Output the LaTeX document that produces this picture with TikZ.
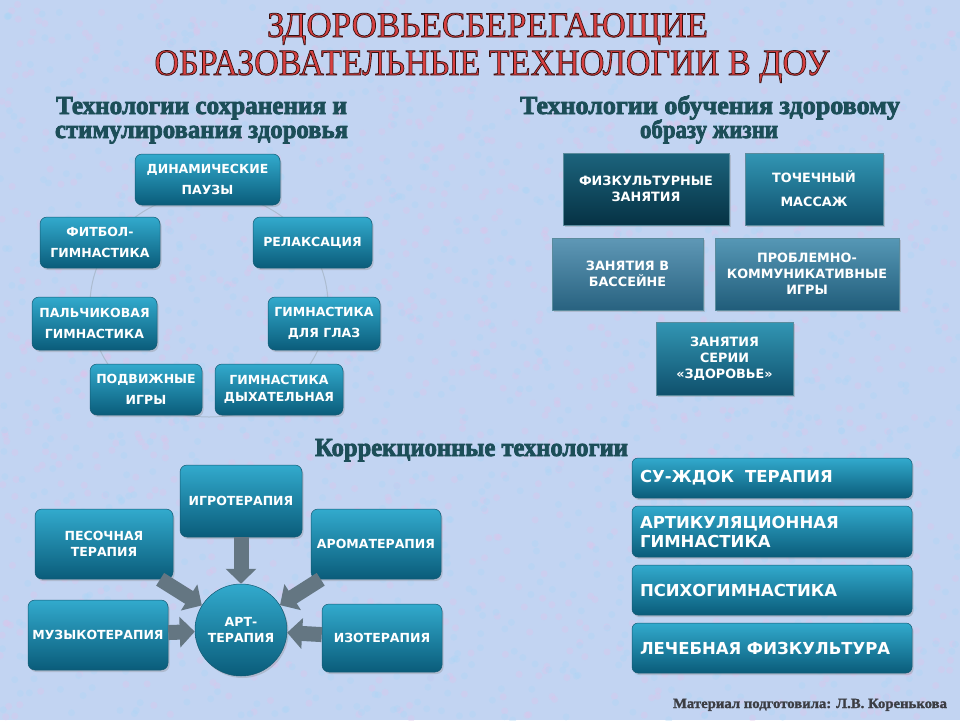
\documentclass[tikz,border=0pt]{standalone}
\usepackage{fontspec}
\setmainfont{Liberation Serif}
\newfontfamily\boxfont{DejaVu Sans}
\newfontfamily\titlefont[FakeBold=2]{Liberation Serif}
\newfontfamily\headfont[BoldFeatures={FakeBold=3}]{Liberation Serif}
\newfontfamily\footfont[BoldFeatures={FakeBold=1.5}]{Liberation Serif}
\usetikzlibrary{shadows,arrows.meta}
\definecolor{bg}{RGB}{194,212,242}
\definecolor{pinkdot}{RGB}{222,196,236}
\definecolor{bluedot}{RGB}{172,214,246}
\definecolor{tealtop}{RGB}{50,170,205}
\definecolor{tealbot}{RGB}{10,92,122}
\definecolor{tealedge}{RGB}{20,90,115}
\definecolor{darktop}{RGB}{28,100,125}
\definecolor{darkbot}{RGB}{6,50,68}
\definecolor{slatetop}{RGB}{95,152,182}
\definecolor{slatebot}{RGB}{40,98,128}
\definecolor{midtop}{RGB}{50,150,180}
\definecolor{midbot}{RGB}{15,80,108}
\definecolor{headteal}{RGB}{28,78,88}
\definecolor{titlered}{RGB}{212,62,62}
\definecolor{footgray}{RGB}{60,62,68}
\definecolor{ringcol}{RGB}{172,188,208}
\definecolor{arrowgray}{RGB}{100,118,130}
\newcommand{\fitw}[2]{\resizebox{#1}{\height}{#2}}
% red fill with dark stroke (outlined letters)
\newcommand{\outlined}[1]{\special{pdf:bcolor [0.84 0.25 0.25] [0.22 0.06 0.06]}#1\special{pdf:ecolor}}
\begin{document}
\begin{tikzpicture}[x=1pt,y=-1pt,
  tbox/.style={rounded corners=7pt, top color=tealtop, bottom color=tealbot,
    draw=tealedge, line width=0.5pt, text=white, align=center, inner sep=2pt,
    font=\boxfont\bfseries\fontsize{12.5}{21}\selectfont,
    drop shadow={opacity=0.3, shadow xshift=1.5pt, shadow yshift=-2pt}},
  sbox/.style={sharp corners, draw=tealedge!70, line width=0.5pt, text=white,
    align=center, inner sep=2pt,
    font=\boxfont\bfseries\fontsize{12.8}{16}\selectfont,
    drop shadow={opacity=0.3, shadow xshift=1.5pt, shadow yshift=-2pt}},
  wbox/.style={tbox, rounded corners=6pt, align=left, text width=264pt,
    font=\boxfont\bfseries\fontsize{16.5}{19}\selectfont},
  heading/.style={anchor=base, text=headteal, font=\headfont\bfseries\fontsize{26}{28}\selectfont},
  titletext/.style={anchor=base, text=titlered},
  blockarrow/.style={draw=arrowgray, line width=15pt, -{Triangle[length=15pt,width=30pt]}},
  ring/.style={draw=ringcol, line width=1pt}
]
\fill[bg] (0,0) rectangle (960,720);
\useasboundingbox (0,0) rectangle (960,720);
% mottled background texture
\pgfmathsetseed{11}
\foreach \i in {1,...,1400} \fill[pinkdot, opacity=0.35] (rnd*960, rnd*720) circle (3.5);
\foreach \i in {1,...,1200} \fill[bluedot, opacity=0.35] (rnd*960, rnd*720) circle (3.5);

% titles
\node[titletext, font=\titlefont\fontsize{36}{40}\selectfont] (t1) at (487.5,37)
  {\fitw{441pt}{\outlined{ЗДОРОВЬЕСБЕРЕГАЮЩИЕ}}};
\node[titletext, font=\titlefont\fontsize{37}{40}\selectfont] (t2) at (492,75)
  {\fitw{675pt}{\outlined{ОБРАЗОВАТЕЛЬНЫЕ ТЕХНОЛОГИИ В ДОУ}}};

\node[heading] (h1a) at (201.5,114) {\fitw{291pt}{Технологии сохранения и}};
\node[heading] (h1b) at (201.5,138) {\fitw{293pt}{стимулирования здоровья}};
\node[heading] (h2a) at (710,114) {\fitw{380pt}{Технологии обучения здоровому}};
\node[heading] (h2b) at (709,138) {\fitw{138pt}{образу жизни}};
\node[heading] (h3) at (471.5,456) {\fitw{313pt}{Коррекционные технологии}};
\node[anchor=base, text=footgray, font=\footfont\bfseries\fontsize{14}{15}\selectfont] (foot) at (810,708)
  {\fitw{274pt}{Материал подготовила: Л.В. Коренькова}};

% left cluster ring
\draw[ring] (209,305) ellipse [x radius=119, y radius=112];

\node[tbox, minimum width=145pt, minimum height=51pt] (dyn) at (207.5,179.5) {ДИНАМИЧЕСКИЕ\\ПАУЗЫ};
\node[tbox, minimum width=120pt, minimum height=51pt] (fit) at (100,242.5) {ФИТБОЛ-\\ГИМНАСТИКА};
\node[tbox, minimum width=119pt, minimum height=51pt] (rel) at (312.5,242.5) {РЕЛАКСАЦИЯ};
\node[tbox, minimum width=125pt, minimum height=53pt] (pal) at (94.5,323.5) {ПАЛЬЧИКОВАЯ\\ГИМНАСТИКА};
\node[tbox, minimum width=112pt, minimum height=53pt] (gla) at (324,323.5) {ГИМНАСТИКА\\ДЛЯ ГЛАЗ};
\node[tbox, minimum width=112pt, minimum height=51pt] (pod) at (146,389.5) {ПОДВИЖНЫЕ\\ИГРЫ};
\node[tbox, minimum width=128pt, minimum height=51pt, font=\boxfont\bfseries\fontsize{12.5}{17}\selectfont] (dyh) at (279,389.5) {ГИМНАСТИКА\\ДЫХАТЕЛЬНАЯ};

% right cluster
\node[sbox, top color=darktop, bottom color=darkbot, minimum width=166pt, minimum height=72pt] (fiz) at (646,189) {ФИЗКУЛЬТУРНЫЕ\\ЗАНЯТИЯ};
\node[sbox, top color=midtop, bottom color=midbot, minimum width=138pt, minimum height=72pt, font=\boxfont\bfseries\fontsize{12.8}{24}\selectfont] (toch) at (814,189) {ТОЧЕЧНЫЙ\\МАССАЖ};
\node[sbox, top color=slatetop, bottom color=slatebot, minimum width=151pt, minimum height=72pt] (bas) at (627.5,274) {ЗАНЯТИЯ В\\БАССЕЙНЕ};
\node[sbox, top color=slatetop!80!midtop, bottom color=slatebot!70!midbot, minimum width=184pt, minimum height=72pt] (prob) at (807,274) {ПРОБЛЕМНО-\\КОММУНИКАТИВНЫЕ\\ИГРЫ};
\node[sbox, top color=midtop, bottom color=midbot, minimum width=137pt, minimum height=73pt] (zan) at (724.5,358.5) {ЗАНЯТИЯ\\СЕРИИ\\«ЗДОРОВЬЕ»};

% art therapy cluster
\node[tbox, minimum width=122pt, minimum height=72pt] (igr) at (241,501) {ИГРОТЕРАПИЯ};
\node[tbox, minimum width=138pt, minimum height=70pt, font=\boxfont\bfseries\fontsize{12.5}{16}\selectfont] (pes) at (104,544) {ПЕСОЧНАЯ\\ТЕРАПИЯ};
\node[tbox, minimum width=130pt, minimum height=70pt] (aro) at (376,544) {АРОМАТЕРАПИЯ};
\node[tbox, minimum width=140pt, minimum height=70pt] (muz) at (98,635) {МУЗЫКОТЕРАПИЯ};
\node[tbox, minimum width=120pt, minimum height=68pt] (izo) at (382,638) {ИЗОТЕРАПИЯ};
\node[tbox, circle, minimum size=92pt, font=\boxfont\bfseries\fontsize{12.5}{16}\selectfont] (art) at (241,630) {АРТ-\\ТЕРАПИЯ};

\draw[blockarrow] (igr) -- (art);
\draw[blockarrow] (pes) -- (art);
\draw[blockarrow] (aro) -- (art);
\draw[blockarrow] (muz) -- (art);
\draw[blockarrow] (izo) -- (art);

% bottom-right list
\node[wbox, minimum width=280pt, minimum height=40pt] (su) at (772,478) {СУ-ЖДОК~~ТЕРАПИЯ};
\node[wbox, minimum width=280pt, minimum height=51pt] (artic) at (772,531.5) {АРТИКУЛЯЦИОННАЯ\\ГИМНАСТИКА};
\node[wbox, minimum width=280pt, minimum height=50pt] (psi) at (772,590) {ПСИХОГИМНАСТИКА};
\node[wbox, minimum width=280pt, minimum height=50pt] (lech) at (772,648) {ЛЕЧЕБНАЯ ФИЗКУЛЬТУРА};
\end{tikzpicture}
\end{document}
